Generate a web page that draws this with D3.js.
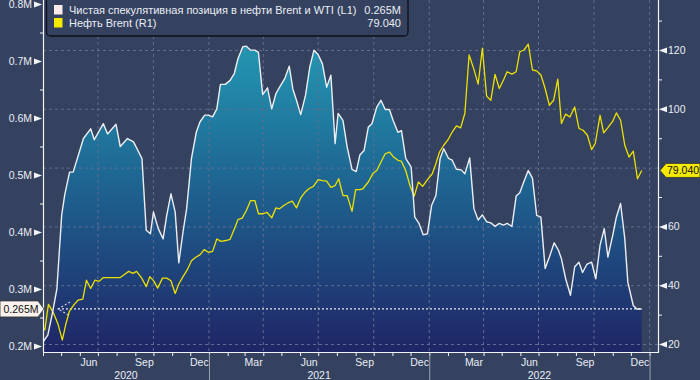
<!DOCTYPE html>
<html><head><meta charset="utf-8">
<script src="https://cdn.jsdelivr.net/npm/d3@7"></script>
<style>
html,body{margin:0;padding:0;background:#35425f;}
svg{display:block;font-family:"Liberation Sans",Arial,sans-serif;}
</style></head>
<body><svg id="c" width="700" height="380"></svg>
<script>
const legendLabels = ["Чистая спекулятивная позиция в нефти Brent и WTI (L1)", "Нефть Brent (R1)"];
const lastLabels = ["0.265M", "79.040"];
const leftTicks = [0.2,0.3,0.4,0.5,0.6,0.7,0.8];
const rightTicks = [20,40,60,80,100,120];
const monthLabels = ["Jun","Sep","Dec","Mar"];
const yearLabels = ["2020","2021","2022"];

const posDates = ["2020-04-01","2020-04-09","2020-04-17","2020-04-24","2020-05-02","2020-05-07","2020-05-15","2020-05-21","2020-06-07","2020-06-19","2020-06-25","2020-07-10","2020-07-17","2020-07-31","2020-08-07","2020-08-19","2020-08-29","2020-09-12","2020-09-19","2020-09-26","2020-10-01","2020-10-09","2020-10-17","2020-10-23","2020-10-30","2020-11-06","2020-11-12","2020-11-19","2020-11-25","2020-12-03","2020-12-11","2020-12-17","2020-12-25","2020-12-31","2021-01-07","2021-01-14","2021-01-20","2021-01-28","2021-02-05","2021-02-12","2021-02-18","2021-02-26","2021-03-04","2021-03-11","2021-03-18","2021-03-24","2021-03-31","2021-04-08","2021-04-15","2021-04-22","2021-04-28","2021-05-07","2021-05-14","2021-05-20","2021-05-26","2021-06-02","2021-06-10","2021-06-17","2021-06-24","2021-07-01","2021-07-08","2021-07-15","2021-07-22","2021-07-29","2021-08-03","2021-08-11","2021-08-18","2021-08-26","2021-09-02","2021-09-08","2021-09-15","2021-09-22","2021-09-28","2021-10-06","2021-10-13","2021-10-20","2021-10-27","2021-11-02","2021-11-10","2021-11-16","2021-11-23","2021-12-02","2021-12-08","2021-12-15","2021-12-22","2021-12-29","2022-01-05","2022-01-12","2022-01-19","2022-01-25","2022-02-02","2022-02-08","2022-02-15","2022-02-23","2022-03-01","2022-03-09","2022-03-16","2022-03-23","2022-03-30","2022-04-06","2022-04-13","2022-04-20","2022-04-27","2022-05-04","2022-05-10","2022-05-18","2022-05-25","2022-05-31","2022-06-07","2022-06-14","2022-06-21","2022-06-28","2022-07-05","2022-07-12","2022-07-19","2022-07-27","2022-08-03","2022-08-08","2022-08-15","2022-08-23","2022-08-30","2022-09-06","2022-09-12","2022-09-19","2022-09-27","2022-10-04","2022-10-11","2022-10-18","2022-10-24","2022-11-01","2022-11-07","2022-11-14","2022-11-21","2022-11-26","2022-12-05","2022-12-11","2022-12-19"];
const posValues = [0.207,0.219,0.26,0.30,0.43,0.465,0.505,0.505,0.564,0.581,0.562,0.59,0.572,0.589,0.55,0.564,0.558,0.529,0.403,0.397,0.435,0.406,0.388,0.429,0.467,0.435,0.346,0.40,0.441,0.529,0.575,0.593,0.605,0.605,0.602,0.616,0.659,0.659,0.666,0.678,0.704,0.725,0.726,0.719,0.719,0.715,0.641,0.653,0.616,0.643,0.654,0.670,0.691,0.651,0.631,0.606,0.640,0.689,0.719,0.711,0.695,0.654,0.675,0.555,0.608,0.596,0.549,0.510,0.506,0.535,0.543,0.584,0.590,0.619,0.631,0.615,0.615,0.596,0.575,0.578,0.529,0.514,0.426,0.415,0.395,0.397,0.447,0.464,0.529,0.546,0.529,0.526,0.510,0.509,0.502,0.530,0.441,0.421,0.430,0.418,0.416,0.410,0.415,0.412,0.415,0.410,0.463,0.469,0.489,0.508,0.494,0.429,0.426,0.336,0.356,0.381,0.368,0.353,0.318,0.289,0.339,0.347,0.329,0.343,0.347,0.318,0.377,0.406,0.356,0.394,0.426,0.450,0.388,0.312,0.271,0.265,0.265];

const brentDates = ["2020-04-01","2020-04-04","2020-04-10","2020-04-18","2020-04-26","2020-05-03","2020-05-09","2020-05-15","2020-05-21","2020-05-29","2020-06-06","2020-06-12","2020-06-19","2020-06-26","2020-07-03","2020-07-10","2020-07-24","2020-08-07","2020-08-15","2020-08-21","2020-08-28","2020-09-03","2020-09-11","2020-09-19","2020-09-25","2020-10-02","2020-10-08","2020-10-16","2020-10-23","2020-10-30","2020-11-06","2020-11-12","2020-11-19","2020-11-26","2020-12-03","2020-12-10","2020-12-17","2020-12-24","2020-12-31","2021-01-07","2021-01-14","2021-01-21","2021-01-29","2021-02-05","2021-02-12","2021-02-18","2021-02-25","2021-03-04","2021-03-11","2021-03-18","2021-03-24","2021-04-01","2021-04-07","2021-04-15","2021-04-22","2021-04-28","2021-05-05","2021-05-14","2021-05-19","2021-05-26","2021-06-02","2021-06-09","2021-06-16","2021-06-23","2021-07-01","2021-07-08","2021-07-15","2021-07-22","2021-07-29","2021-08-04","2021-08-11","2021-08-18","2021-08-26","2021-09-01","2021-09-08","2021-09-13","2021-09-22","2021-09-30","2021-10-06","2021-10-13","2021-10-20","2021-10-27","2021-11-02","2021-11-10","2021-11-16","2021-11-23","2021-11-30","2021-12-07","2021-12-14","2021-12-21","2021-12-29","2022-01-06","2022-01-12","2022-01-18","2022-01-25","2022-02-02","2022-02-08","2022-02-15","2022-02-22","2022-03-01","2022-03-08","2022-03-16","2022-03-23","2022-03-30","2022-04-06","2022-04-13","2022-04-20","2022-04-27","2022-05-04","2022-05-10","2022-05-18","2022-05-25","2022-05-31","2022-06-07","2022-06-14","2022-06-21","2022-06-28","2022-07-05","2022-07-12","2022-07-19","2022-07-26","2022-08-02","2022-08-08","2022-08-15","2022-08-22","2022-08-30","2022-09-06","2022-09-13","2022-09-20","2022-09-27","2022-10-03","2022-10-11","2022-10-17","2022-10-24","2022-11-01","2022-11-07","2022-11-14","2022-11-21","2022-11-28","2022-12-05","2022-12-12","2022-12-19"];
const brentValues = [25.2,24.8,33.5,30.7,26.7,21.3,26.9,31.3,33.0,34.9,35.3,41.7,38.9,41.7,41.3,42.6,42.6,42.6,43.8,44.7,44.0,44.7,42.6,39.5,42.9,41.3,39.0,42.4,42.4,41.5,37.2,40.4,42.9,45.2,48.3,49.5,50.3,52.1,51.2,51.5,55.7,54.9,55.2,55.6,59.1,62.3,62.8,65.4,68.8,68.8,64.3,64.3,64.8,62.9,66.3,66.0,67.1,68.2,68.6,66.3,69.7,71.6,72.9,73.6,75.9,75.6,75.4,73.3,73.9,76.2,70.5,70.5,65.1,72.5,72.5,72.8,75.1,78.1,79.0,81.9,84.7,85.3,83.8,82.5,82.1,79.0,73.9,70.2,75.1,73.6,75.9,77.9,81.3,85.3,87.6,89.8,92.1,94.2,93.5,98.5,118.3,113.4,108.4,120.6,104.3,102.9,111.7,106.9,109.8,112.6,111.8,112.6,119.4,120.0,122.0,113.2,112.9,111.5,106.9,101.2,102.9,110.1,95.0,98.2,97.2,100.6,93.3,92.7,91.0,86.1,88.2,97.8,91.8,93.6,95.8,98.6,96.1,87.6,83.6,85.6,76.2,79.04];

const parse = d3.utcParse("%Y-%m-%d");
const pos = posDates.map((d,i)=>({date:parse(d), v:posValues[i]}));
const brent = brentDates.map((d,i)=>({date:parse(d), v:brentValues[i]}));

const W=700,H=380, L=43, R=658, T=0, B=352;
const bg="#35425f", txt="#e9edf5", grid="#5f6d90";
const svg=d3.select("#c");
svg.append("rect").attr("width",W).attr("height",H).attr("fill",bg);

const x=d3.scaleUtc().domain([parse("2020-04-01"),parse("2023-01-15")]).range([L,R]);
const yL=d3.scaleLinear().domain([0.2,0.8]).range([346,4]);
const yR=d3.scaleLinear().domain([20,120]).range([344,50]);

const defs=svg.append("defs");
defs.append("clipPath").attr("id","clip").append("rect").attr("x",L).attr("y",T).attr("width",R-L).attr("height",B-T);
const g=defs.append("linearGradient").attr("id","grad").attr("gradientUnits","userSpaceOnUse")
 .attr("x1",0).attr("x2",0).attr("y1",40).attr("y2",B);
g.append("stop").attr("offset",0).attr("stop-color","#2399b3");
g.append("stop").attr("offset",0.45).attr("stop-color","#1e6592");
g.append("stop").attr("offset",1).attr("stop-color","#1f2565");

const plot=svg.append("g").attr("clip-path","url(#clip)");
plot.append("path").datum(pos)
 .attr("d",d3.area().x(d=>x(d.date)).y0(B).y1(d=>yL(d.v)))
 .attr("fill","url(#grad)");

// grid
const quarters=d3.utcMonth.range(parse("2020-07-01"),parse("2023-01-02"),3);
plot.selectAll(".vg").data(quarters).join("line")
 .attr("x1",d=>x(d)).attr("x2",d=>x(d)).attr("y1",T).attr("y2",B)
 .attr("stroke",grid).attr("stroke-dasharray","3,3").attr("stroke-width",1);
plot.selectAll(".hg").data(rightTicks).join("line")
 .attr("x1",L).attr("x2",R).attr("y1",d=>yR(d)+0.5).attr("y2",d=>yR(d)+0.5)
 .attr("stroke",grid).attr("stroke-dasharray","3,3").attr("stroke-width",1);

// last-value dotted line
const lastPos=pos[pos.length-1];
const yl=yL(lastPos.v);
plot.append("line").attr("x1",58).attr("x2",x(lastPos.date)).attr("y1",yl).attr("y2",yl)
 .attr("stroke","#e6e9f2").attr("stroke-width",1.3).attr("stroke-dasharray","2,2");
plot.append("path").attr("d",`M70,${yl-7}L58,${yl}L70,${yl+7}`)
 .attr("fill","none").attr("stroke","#c9cfdd").attr("stroke-width",1.2).attr("stroke-dasharray","2,2");

plot.append("path").datum(brent)
 .attr("d",d3.line().x(d=>x(d.date)).y(d=>yR(d.v)))
 .attr("fill","none").attr("stroke","#ece100").attr("stroke-width",1.3).attr("stroke-linejoin","round");
plot.append("path").datum(pos)
 .attr("d",d3.line().x(d=>x(d.date)).y(d=>yL(d.v)))
 .attr("fill","none").attr("stroke","#eceef4").attr("stroke-width",1.4).attr("stroke-linejoin","round");

// axes lines
svg.append("line").attr("x1",L+0.5).attr("x2",L+0.5).attr("y1",0).attr("y2",B).attr("stroke","#f2f4f8").attr("stroke-width",1.2);
svg.append("line").attr("x1",R+0.5).attr("x2",R+0.5).attr("y1",0).attr("y2",B).attr("stroke","#f2f4f8").attr("stroke-width",1.2);
svg.append("line").attr("x1",L).attr("x2",R+1).attr("y1",B+0.5).attr("y2",B+0.5).attr("stroke","#f2f4f8").attr("stroke-width",1.2);

// left axis
const la=svg.append("g").attr("transform",`translate(${L},0)`)
 .call(d3.axisLeft(yL).tickValues(leftTicks).tickSize(0).tickPadding(11).tickFormat(d=>d3.format(".1f")(d)+"M"));
la.select(".domain").remove();
la.selectAll("text").attr("fill",txt).attr("font-size",10.5).attr("font-family","Liberation Sans, Arial, sans-serif");
la.selectAll(".tick").append("path").attr("d","M-1,0L-9,-3L-9,3Z").attr("fill","#f2f4f8");
const lm=svg.append("g").attr("transform",`translate(${L},0)`)
 .call(d3.axisLeft(yL).tickValues(leftTicks.slice(0,-1).map(d=>d+0.05)).tickSize(3).tickFormat(""));
lm.select(".domain").remove(); lm.selectAll("line").attr("stroke","#f2f4f8");

// right axis
const ra=svg.append("g").attr("transform",`translate(${R},0)`)
 .call(d3.axisRight(yR).tickValues(rightTicks.filter(d=>d!==80)).tickSize(0).tickPadding(10).tickFormat(d3.format("d")));
ra.select(".domain").remove();
ra.selectAll("text").attr("fill",txt).attr("font-size",10.5).attr("font-family","Liberation Sans, Arial, sans-serif");
ra.selectAll(".tick").append("path").attr("d","M1,0L9,-3L9,3Z").attr("fill","#f2f4f8");
const rm=svg.append("g").attr("transform",`translate(${R},0)`)
 .call(d3.axisRight(yR).tickValues([30,50,70,90,110,130]).tickSize(4).tickFormat(""));
rm.select(".domain").remove(); rm.selectAll("line").attr("stroke","#f2f4f8");

// bottom axis
const ba=svg.append("g").attr("transform",`translate(0,${B})`)
 .call(d3.axisBottom(x).ticks(d3.utcMonth.every(1)).tickSize(4).tickFormat(""));
ba.select(".domain").remove(); ba.selectAll("line").attr("stroke","#f2f4f8");
const labelMonths=d3.utcMonth.range(parse("2020-06-01"),parse("2023-01-01"),3);
svg.append("g").selectAll("text").data(labelMonths).join("text")
 .attr("x",d=>x(d3.utcDay.offset(d,15))).attr("y",366).attr("text-anchor","middle")
 .attr("fill",txt).attr("font-size",10.5).text((d,i)=>monthLabels[i%4]);
const yearBounds=[parse("2021-01-01"),parse("2022-01-01"),parse("2023-01-01")];
svg.append("g").selectAll("line").data(yearBounds).join("line")
 .attr("x1",d=>x(d)+0.5).attr("x2",d=>x(d)+0.5).attr("y1",B+2).attr("y2",H)
 .attr("stroke","#9aa2b6").attr("stroke-width",1);
const yStarts=[x.domain()[0],...yearBounds];
svg.append("g").selectAll("text").data(yearLabels).join("text")
 .attr("x",(d,i)=>(x(yStarts[i])+x(yStarts[i+1]))/2).attr("y",379).attr("text-anchor","middle")
 .attr("fill",txt).attr("font-size",10.5).text(d=>d);

// value tags
const tl=svg.append("g");
tl.append("path").attr("d",`M0,${yl-8}H38L44,${yl}L38,${yl+8}H0Z`).attr("fill","#fbf3ee").attr("stroke","#333").attr("stroke-width",0.8);
tl.append("text").attr("x",21).attr("y",yl+4).attr("text-anchor","middle").attr("font-size",10.5).attr("fill","#111").text(lastLabels[0]);
const lastB=brent[brent.length-1]; const yb=yR(lastB.v);
const tr=svg.append("g");
tr.append("path").attr("d",`M660,${yb}L666,${yb-7}H700V${yb+7}H666Z`).attr("fill","#f5ea00").attr("stroke","#333").attr("stroke-width",0.8);
tr.append("text").attr("x",667).attr("y",yb+4).attr("font-size",10.5).attr("fill","#111").text(lastLabels[1]);

// legend
const lg=svg.append("g");
lg.append("rect").attr("x",46.5).attr("y",-6).attr("width",361.5).attr("height",42).attr("rx",4)
 .attr("fill",bg).attr("stroke","#0b0f18").attr("stroke-width",1.3);
const sw=["#fcebea","#f5ea00"];
[0,1].forEach(i=>{
 lg.append("rect").attr("x",54).attr("y",5+i*13).attr("width",8.5).attr("height",9.5).attr("fill",sw[i]);
 lg.append("text").attr("x",69).attr("y",14+i*13).attr("font-size",11).attr("fill",txt).text(legendLabels[i]);
 lg.append("text").attr("x",401).attr("y",14+i*13).attr("text-anchor","end").attr("font-size",11).attr("fill",txt).text(lastLabels[i]);
});
</script></body></html>
